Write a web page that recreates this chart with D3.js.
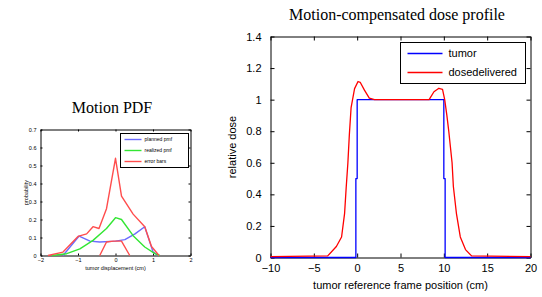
<!DOCTYPE html>
<html>
<head>
<meta charset="utf-8">
<script src="https://cdnjs.cloudflare.com/ajax/libs/d3/7.8.5/d3.min.js"></script>
<style>
  body { margin: 0; background: white; }
  svg { display: block; }
</style>
</head>
<body>
<div id="canvas"></div>
<script>
// Constants
const w = 542;
const h = 297;

// Left chart data: Motion PDF
const pdfXTicks = [-2, -1, 0, 1, 2];
const pdfYTicks = [0, 0.1, 0.2, 0.3, 0.4, 0.5, 0.6, 0.7];
const plannedPmf = [[-1.4, 0], [-0.97, 0.108], [-0.68, 0.08], [-0.42, 0.075], [0, 0.08], [0.25, 0.088], [0.52, 0.12], [0.78, 0.16], [1.0, 0.02], [1.14, 0]];
const realizedPmf = [[-1.7, 0], [-1.3, 0.01], [-0.95, 0.037], [-0.6, 0.084], [-0.24, 0.15], [0, 0.21], [0.16, 0.2], [0.47, 0.11], [0.78, 0.047], [1.05, 0.01], [1.18, 0]];
const errorUpper = [[-1.8, 0], [-1.4, 0.019], [-1.0, 0.106], [-0.77, 0.12], [-0.6, 0.16], [-0.44, 0.15], [-0.24, 0.26], [0, 0.54], [0.16, 0.33], [0.47, 0.23], [0.78, 0.16], [0.96, 0.05], [1.16, 0]];
const errorLower = [[-0.42, 0], [-0.24, 0.075], [-0.06, 0.08], [0.16, 0.08], [0.38, 0]];
const pdfLegend = ["planned pmf", "realized pmf", "error bars"];

// Right chart data: dose profile
const doseXTicks = [-10, -5, 0, 5, 10, 15, 20];
const doseYTicks = [0, 0.2, 0.4, 0.6, 0.8, 1, 1.2, 1.4];
const tumor = [[-10, 0], [-0.15, 0], [-0.15, 0.5], [0, 0.5], [0, 1], [10, 1], [10, 0.5], [10.15, 0.5], [10.15, 0], [20, 0]];
const doseDelivered = [[-10, 0.005], [-3.4, 0.01], [-2.4, 0.07], [-1.8, 0.13], [-1.45, 0.28], [-1.27, 0.44], [-1.07, 0.6], [-0.9, 0.78], [-0.7, 0.95], [-0.3, 1.07], [0.1, 1.115], [0.35, 1.11], [0.84, 1.06], [1.4, 1.01], [2.0, 1.0], [8.3, 1.0], [8.86, 1.05], [9.43, 1.072], [9.85, 1.065], [10.1, 1.0], [10.35, 0.9], [10.57, 0.8], [10.76, 0.7], [10.95, 0.6], [11.1, 0.45], [11.45, 0.28], [11.9, 0.13], [12.5, 0.05], [13.2, 0.01], [20, 0.005]];
const doseLegend = ["tumor", "dosedelivered"];

// SVG setup
const svg = d3.select("#canvas").append("svg")
  .attr("width", w)
  .attr("height", h)
  .style("background-color", "white");

function drawPanel(opt) {
  const x = d3.scaleLinear().domain(opt.xDomain).range([opt.left, opt.right]);
  const y = d3.scaleLinear().domain(opt.yDomain).range([opt.bottom, opt.top]);
  const g = svg.append("g");

  // axes, ticks inward like matlab
  const axes = [
    [d3.axisBottom(x).tickValues(opt.xTicks), `translate(0,${opt.bottom})`, true, opt.xPad],
    [d3.axisTop(x).tickValues(opt.xTicks), `translate(0,${opt.top})`, false, 0],
    [d3.axisLeft(y).tickValues(opt.yTicks), `translate(${opt.left},0)`, true, opt.yPad],
    [d3.axisRight(y).tickValues(opt.yTicks), `translate(${opt.right},0)`, false, 0]
  ];
  axes.forEach(([ax, tr, labels, pad]) => {
    ax.tickSizeInner(-opt.tick).tickSizeOuter(0).tickPadding(pad + opt.tick)
      .tickFormat(labels ? opt.fmt : () => "");
    const a = g.append("g").attr("transform", tr).call(ax);
    a.select(".domain").attr("stroke", "#000").attr("stroke-width", 1);
    a.selectAll(".tick line").attr("stroke", "#000");
    a.selectAll(".tick text")
      .attr("fill", "#000")
      .style("font-family", "Arial, 'Liberation Sans', sans-serif")
      .style("font-size", opt.tickFont + "px");
  });

  const line = d3.line().x(d => x(d[0])).y(d => y(d[1]));
  opt.series.forEach(s => {
    g.append("path")
      .datum(s.data)
      .attr("d", line)
      .attr("fill", "none")
      .attr("stroke", s.color)
      .attr("stroke-width", opt.lineWidth)
      .attr("stroke-linejoin", "round");
  });

  // Legend
  const L = opt.legend;
  g.append("rect")
    .attr("x", L.x).attr("y", L.y).attr("width", L.w).attr("height", L.h)
    .attr("fill", "white").attr("stroke", "#000").attr("stroke-width", 1);
  L.items.forEach((name, i) => {
    const ly = L.y + L.first + i * L.step;
    g.append("line")
      .attr("x1", L.x + L.lx1).attr("x2", L.x + L.lx2)
      .attr("y1", ly).attr("y2", ly)
      .attr("stroke", L.colors[i]).attr("stroke-width", opt.lineWidth);
    g.append("text")
      .attr("x", L.x + L.tx).attr("y", ly)
      .attr("dy", "0.35em")
      .style("font-family", "Arial, 'Liberation Sans', sans-serif")
      .style("font-size", L.font + "px")
      .text(name);
  });

  // Title and axis labels
  g.append("text")
    .attr("x", opt.titleX).attr("y", opt.titleY)
    .attr("text-anchor", "middle")
    .style("font-family", "'Liberation Serif', 'Times New Roman', serif")
    .style("font-size", opt.titleFont + "px")
    .text(opt.title);
  g.append("text")
    .attr("x", (opt.left + opt.right) / 2).attr("y", opt.xLabelY)
    .attr("text-anchor", "middle")
    .style("font-family", "Arial, 'Liberation Sans', sans-serif")
    .style("font-size", opt.labelFont + "px")
    .text(opt.xLabel);
  g.append("text")
    .attr("transform", `translate(${opt.yLabelX},${(opt.top + opt.bottom) / 2}) rotate(-90)`)
    .attr("text-anchor", "middle")
    .style("font-family", "Arial, 'Liberation Sans', sans-serif")
    .style("font-size", opt.labelFont + "px")
    .text(opt.yLabel);
}

drawPanel({
  left: 40.5, right: 190.5, top: 129.5, bottom: 255.5,
  xDomain: [-2, 2], yDomain: [0, 0.7],
  xTicks: pdfXTicks, yTicks: pdfYTicks,
  fmt: d3.format(""), tick: 2, xPad: 1, yPad: 2, tickFont: 5.5, lineWidth: 1.4,
  series: [
    { data: plannedPmf, color: "#6b6bff" },
    { data: realizedPmf, color: "#33e633" },
    { data: errorUpper, color: "#ff4d4d" },
    { data: errorLower, color: "#ff4d4d" }
  ],
  legend: { x: 120.5, y: 133.5, w: 68, h: 34, first: 6, step: 11, lx1: 4, lx2: 21, tx: 24, font: 5,
            items: pdfLegend, colors: ["#6b6bff", "#33e633", "#ff4d4d"] },
  title: "Motion PDF", titleX: 112, titleY: 113, titleFont: 16,
  xLabel: "tumor displacement (cm)", xLabelY: 270, yLabel: "probability", yLabelX: 28, labelFont: 5.5
});

drawPanel({
  left: 270.5, right: 530.5, top: 36.5, bottom: 257.5,
  xDomain: [-10, 20], yDomain: [0, 1.4],
  xTicks: doseXTicks, yTicks: doseYTicks,
  fmt: d3.format(""), tick: 4, xPad: 3, yPad: 5, tickFont: 11, lineWidth: 1.3,
  series: [
    { data: tumor, color: "#0000ff" },
    { data: doseDelivered, color: "#ff0000" }
  ],
  legend: { x: 400.5, y: 42.5, w: 125, h: 41, first: 11, step: 19, lx1: 7, lx2: 42, tx: 48, font: 11,
            items: doseLegend, colors: ["#0000ff", "#ff0000"] },
  title: "Motion-compensated dose profile", titleX: 397, titleY: 20, titleFont: 16,
  xLabel: "tumor reference frame position (cm)", xLabelY: 289, yLabel: "relative dose", yLabelX: 236, labelFont: 11
});
</script>
</body>
</html>
